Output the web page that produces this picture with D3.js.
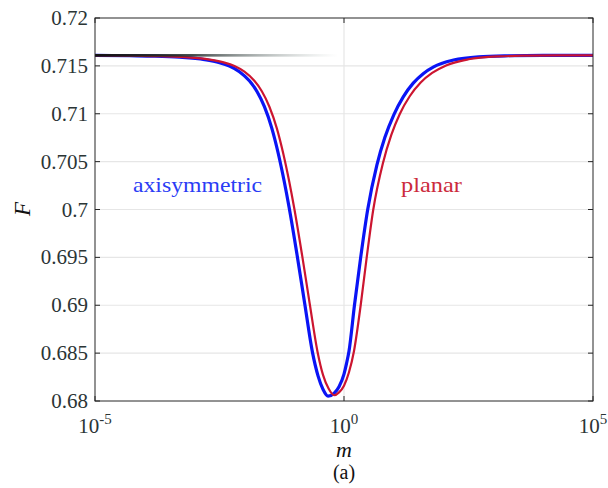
<!DOCTYPE html>
<html><head><meta charset="utf-8">
<script src="https://cdn.jsdelivr.net/npm/d3@7"></script>
<style>body{margin:0;background:#fff}svg{display:block}</style>
</head><body><svg id="c" width="608" height="488"></svg>
<script>
// log10(m) and F values
const axiLogM = [-5,-4.3,-3.8,-3.3,-2.8,-2.5,-2.3,-2.1,-1.9,-1.75,-1.6,-1.45,-1.32,-1.2,-1.1,-0.94,-0.79,-0.63,-0.52,-0.42,-0.32,-0.2,-0.1,0,0.05,0.1,0.21,0.335,0.476,0.66,0.82,1.0,1.19,1.39,1.59,1.8,2.2,2.7,3.3,4,5];
const axiF    = [0.7161,0.71606,0.71602,0.71591,0.71566,0.71534,0.71498,0.71439,0.71344,0.71235,0.71076,0.7085,0.70585,0.70292,0.70016,0.69518,0.69021,0.6850,0.6826,0.6812,0.6805,0.6808,0.6815,0.6828,0.6839,0.6852,0.6900,0.6950,0.7000,0.70464,0.70751,0.70989,0.71177,0.7132,0.71419,0.7149,0.71561,0.71595,0.71606,0.7161,0.7161];
const plaLogM = [-5,-4.2,-3.7,-3.2,-2.7,-2.4,-2.2,-2.0,-1.8,-1.65,-1.5,-1.35,-1.22,-1.1,-1.0,-0.84,-0.69,-0.53,-0.42,-0.31,-0.2,-0.1,0,0.1,0.2,0.335,0.456,0.588,0.78,0.95,1.12,1.32,1.54,1.77,2.05,2.5,3.1,3.7,4.3,5];
const plaF    = [0.7161,0.71606,0.71602,0.71591,0.71566,0.71534,0.71498,0.71439,0.71344,0.71235,0.71076,0.7085,0.70585,0.70292,0.70016,0.69518,0.69021,0.6851,0.6827,0.6813,0.6806,0.6809,0.6816,0.6830,0.6852,0.6900,0.6950,0.7000,0.70481,0.70779,0.70998,0.71183,0.71326,0.71426,0.71505,0.71569,0.71599,0.71607,0.7161,0.7161];
const refLineF = 0.7161;
const yTicks = [0.68,0.685,0.69,0.695,0.7,0.705,0.71,0.715,0.72];
const yTickLabels = ["0.68","0.685","0.69","0.695","0.7","0.705","0.71","0.715","0.72"];
const xTicks = [1e-5,1,1e5];
const xTickExp = ["-5","0","5"];

const svg = d3.select("#c");
const L=95,R=593,T=18,B=401;
const x = d3.scaleLog().domain([1e-5,1e5]).range([L,R]);
const y = d3.scaleLinear().domain([0.68,0.72]).range([B,T]);
const axisCol="#262626";
const FF = "Times New Roman";

svg.selectAll("line.h").data(yTicks.slice(1,-1)).join("line")
  .attr("x1",L).attr("x2",R).attr("y1",d=>y(d)).attr("y2",d=>y(d))
  .attr("stroke","#e6e6e6").attr("stroke-width",1.2);
svg.append("line").attr("x1",x(1)).attr("x2",x(1)).attr("y1",T).attr("y2",B)
  .attr("stroke","#e6e6e6").attr("stroke-width",1.2);

const line = d3.line().curve(d3.curveMonotoneX);
const axiPts = axiLogM.map((l,i)=>[x(Math.pow(10,l)), y(axiF[i])]);
const plaPts = plaLogM.map((l,i)=>[x(Math.pow(10,l)), y(plaF[i])]);
svg.append("path").attr("d",line(axiPts)).attr("fill","none").attr("stroke","#0a14f5").attr("stroke-width",3.2);
svg.append("path").attr("d",line(plaPts)).attr("fill","none").attr("stroke","#cc1530").attr("stroke-width",2.2);

const defs = svg.append("defs");
const grad = defs.append("linearGradient").attr("id","fade").attr("x1","0").attr("x2","1").attr("y1","0").attr("y2","0");
grad.append("stop").attr("offset","0").attr("stop-color","#111").attr("stop-opacity",1);
grad.append("stop").attr("offset","0.4").attr("stop-color","#2a3333").attr("stop-opacity",0.9);
grad.append("stop").attr("offset","1").attr("stop-color","#9aa8a4").attr("stop-opacity",0);
svg.append("rect").attr("x",L).attr("width",x(1)-6-L).attr("y",y(refLineF)-1.3).attr("height",2.6).attr("fill","url(#fade)");

svg.append("rect").attr("x",L).attr("y",T).attr("width",R-L).attr("height",B-T)
  .attr("fill","none").attr("stroke",axisCol).attr("stroke-width",1);

const tl=5;
svg.selectAll("line.yt").data(yTicks).join("line")
  .attr("x1",L).attr("x2",L+tl).attr("y1",d=>y(d)).attr("y2",d=>y(d)).attr("stroke",axisCol);
svg.selectAll("line.yt2").data(yTicks).join("line")
  .attr("x1",R).attr("x2",R-tl).attr("y1",d=>y(d)).attr("y2",d=>y(d)).attr("stroke",axisCol);
svg.selectAll("line.xt").data(xTicks).join("line")
  .attr("x1",d=>x(d)).attr("x2",d=>x(d)).attr("y1",B).attr("y2",B-tl).attr("stroke",axisCol);
svg.selectAll("line.xt2").data(xTicks).join("line")
  .attr("x1",d=>x(d)).attr("x2",d=>x(d)).attr("y1",T).attr("y2",T+tl).attr("stroke",axisCol);

svg.selectAll("text.yl").data(yTicks).join("text")
  .attr("x",L-7).attr("y",d=>y(d)+7).attr("text-anchor","end")
  .attr("font-family",FF).attr("font-size",21).attr("fill","#2b3535")
  .text((d,i)=>yTickLabels[i]);
xTicks.forEach((d,i)=>{
  const t = svg.append("text").attr("x",x(d)).attr("y",B+32).attr("text-anchor","middle")
    .attr("font-family",FF).attr("font-size",21).attr("fill","#2b3535");
  t.append("tspan").text("10");
  t.append("tspan").attr("dy",-9).attr("font-size",15).text(xTickExp[i]);
});

svg.append("text").attr("x",x(1)).attr("y",457).attr("text-anchor","middle").attr("font-family",FF)
  .attr("font-style","italic").attr("font-size",22).attr("fill","#111").text("m");
svg.append("text").attr("transform","translate(30,209) rotate(-90)").attr("text-anchor","middle").attr("font-family",FF)
  .attr("font-style","italic").attr("font-size",23).attr("fill","#111").text("F");
svg.append("text").attr("x",x(1)).attr("y",479).attr("text-anchor","middle").attr("font-family",FF)
  .attr("font-size",20).attr("fill","#111").text("(a)");

svg.append("text").attr("x",133).attr("y",192).attr("textLength",129).attr("lengthAdjust","spacingAndGlyphs").attr("font-family",FF)
  .attr("font-size",21).attr("fill","#2a3cf5").text("axisymmetric");
svg.append("text").attr("x",401).attr("y",192).attr("textLength",61).attr("lengthAdjust","spacingAndGlyphs").attr("font-family",FF)
  .attr("font-size",21).attr("fill","#cc2a3c").text("planar");
</script></body></html>
